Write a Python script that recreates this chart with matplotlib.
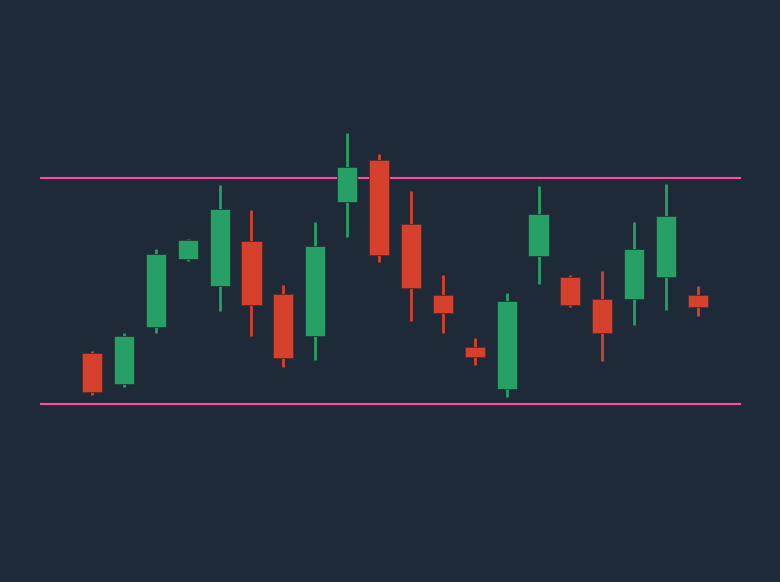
import numpy as np
import matplotlib
matplotlib.use('Agg')
import matplotlib.pyplot as plt

# OHLC
opens = [111.2, 104.4, 117.0, 132.0, 126.0, 136.1, 124.4, 115.0, 144.6, 153.9,
         139.8, 124.1, 112.7, 103.4, 132.8, 128.2, 123.2, 123.3, 128.0, 124.1]
highs = [111.8, 115.8, 134.4, 136.6, 148.5, 142.9, 126.4, 140.3, 160.0, 155.3,
         147.1, 128.6, 114.5, 124.6, 148.2, 128.6, 129.4, 140.2, 148.7, 126.2]
lows = [102.0, 103.8, 115.6, 131.7, 120.6, 115.0, 108.2, 109.7, 136.9, 131.5,
        118.4, 115.8, 108.6, 101.5, 126.6, 121.4, 109.6, 117.4, 120.9, 119.5]
closes = [102.6, 115.1, 133.1, 136.3, 143.1, 121.9, 110.1, 135.0, 152.4, 132.9,
          125.7, 120.2, 110.3, 122.8, 142.0, 121.9, 115.8, 134.3, 141.5, 121.5]
support = 100.0
resistance = 150.0

bg = '#1e2a38'
up_color = '#26a065'
down_color = '#d6412e'
line_color = '#ff4aa5'

fig = plt.figure(figsize=(7.8, 5.82), dpi=100)
fig.patch.set_facecolor(bg)
ax = fig.add_axes([0, 0, 1, 1])
ax.set_facecolor(bg)

x = np.arange(len(opens))
width = 0.63
for i in range(len(opens)):
    o, h, l, c = opens[i], highs[i], lows[i], closes[i]
    col = up_color if c >= o else down_color
    ax.vlines(x[i], l, h, color=col, linewidth=2.0, zorder=2)
    ax.bar(x[i], abs(c - o), bottom=min(o, c), width=width, color=col,
           edgecolor='#1c3a33' if c >= o else '#5a2a28', linewidth=0.6, zorder=3)

ax.axhline(resistance, xmin=40.5 / 780, xmax=740 / 780, color=line_color, linewidth=1.5, zorder=1)
ax.axhline(support, xmin=40.5 / 780, xmax=740 / 780, color=line_color, linewidth=1.5, zorder=1)

px = (698 - 92) / 19.0
ax.set_xlim(-92 / px, (780 - 92) / px)
ppy = 50.0 / 226.0
ax.set_ylim(support - 178 * ppy, support + 404 * ppy)
ax.axis('off')

fig.savefig('out.png', dpi=100, facecolor=bg)
